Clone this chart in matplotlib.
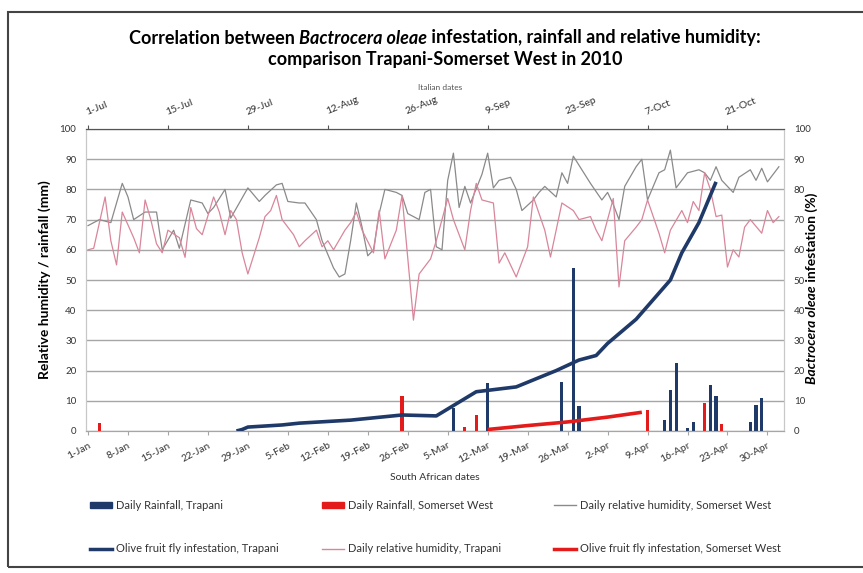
import numpy as np
import matplotlib.pyplot as plt
from matplotlib.patches import Patch, Rectangle
from matplotlib.lines import Line2D

plt.rcParams['font.family'] = ['Lato', 'DejaVu Sans']

# --- data (day 0 = 1-Jan / 1-Jul) ---
sa_labels = ["1-Jan", "8-Jan", "15-Jan", "22-Jan", "29-Jan", "5-Feb", "12-Feb", "19-Feb",
             "26-Feb", "5-Mar", "12-Mar", "19-Mar", "26-Mar", "2-Apr", "9-Apr", "16-Apr",
             "23-Apr", "30-Apr"]
it_labels = ["1-Jul", "15-Jul", "29-Jul", "12-Aug", "26-Aug", "9-Sep", "23-Sep", "7-Oct", "21-Oct"]

# daily relative humidity, Somerset West (grey line)
rh_sw_day = [0, 2, 4, 6, 7, 8, 10, 12, 13, 15, 16, 18, 20, 21, 22, 24, 25, 28, 30, 31, 33, 34,
             35, 37, 38, 40, 41, 43, 44, 45, 46, 47, 48, 49, 50, 51, 52, 54, 55, 56, 58, 59, 60,
             61, 62, 63, 64, 65, 66, 67, 69, 70, 71, 72, 74, 75, 76, 78, 79, 80, 82, 83, 84, 85,
             87, 88, 90, 91, 92, 93, 94, 96, 97, 98, 100, 101, 102, 103, 105, 107, 108, 109, 110,
             111, 113, 114, 116, 117, 118, 119, 121]
rh_sw = [68, 70, 69, 82, 77.5, 70, 72.5, 72.5, 60, 66.5, 60.5, 76.5, 75.5, 72, 74, 80, 70.5,
         80.5, 76, 78, 81.5, 82, 76, 75.5, 75.5, 70, 63, 54, 51, 52, 63, 75.5, 67.5, 58, 60, 72,
         80, 79, 78, 72, 70, 79, 80, 61, 60, 83, 92, 74, 81, 75.5, 85, 92, 80.5, 83, 84, 80, 73,
         76.5, 79, 81, 77.5, 85.5, 82, 91, 85, 82, 76.5, 79, 75, 70, 81, 87.5, 90, 76.5, 85.5,
         86.5, 93, 80.5, 85.5, 86.5, 85.5, 83, 87.5, 83, 79, 84, 86.5, 83, 87, 82.5, 87.5]

# daily relative humidity, Trapani (pink line)
rh_tp_day = [0, 1, 3, 4, 5, 6, 8, 9, 10, 11, 12, 13, 14, 16, 17, 18, 19, 20, 22, 23, 24, 25, 26,
             27, 28, 30, 31, 32, 33, 34, 36, 37, 38, 40, 41, 42, 43, 45, 46, 47, 48, 50, 51, 52,
             54, 55, 57, 58, 60, 61, 63, 64, 66, 67, 68, 69, 71, 72, 73, 75, 77, 78, 80, 81, 83,
             85, 86, 88, 89, 90, 92, 93, 94, 96, 97, 98, 100, 101, 102, 104, 105, 106, 107, 108,
             109, 110, 111, 112, 113, 114, 115, 116, 118, 119, 120, 121]
rh_tp = [60, 60.5, 77.5, 63, 55, 72.5, 64, 59, 76.5, 70, 62, 59, 66.5, 64, 57.5, 74, 67, 65,
         77.5, 72.5, 65, 73, 70, 59, 52, 64, 71, 73, 78, 70, 65, 61, 63, 66.5, 61, 63, 60, 66.5,
         69, 72.5, 66.5, 59, 73, 57, 66.5, 78, 36.7, 52, 57, 63, 77, 70, 60, 73, 82, 76.5, 75.5,
         55.6, 59, 51, 61, 77.5, 66.5, 57.6, 75.5, 73, 70, 71, 66.5, 63, 77, 47.7, 63, 67.5, 70,
         76.5, 65.5, 59, 66.5, 73, 69, 76, 73, 85.5, 80, 71, 71.5, 54.3, 60, 57.6, 67.5, 70,
         65.5, 73, 69, 71]

# olive fruit fly infestation (%)
fly_tp_day = [26, 27, 28, 34, 37, 46, 55, 61, 68, 75, 82, 86, 89, 91, 96, 102, 104, 107, 110]
fly_tp = [0, 0.5, 1.3, 2.0, 2.6, 3.6, 5.3, 5.0, 13.0, 14.6, 20.0, 23.5, 25.0, 29.0, 37.0, 50.0,
          59.0, 69.0, 82.5]
fly_sw_day = [70, 77, 84, 91, 97]
fly_sw = [0.5, 1.8, 3.0, 4.6, 6.2]

# daily rainfall (mm)
rain_tp_day = [64, 70, 83, 85, 86, 101, 102, 103, 105, 106, 109, 110, 116, 117, 118]
rain_tp = [7.6, 16, 16.2, 54, 8.3, 3.6, 13.6, 22.5, 1, 3, 15.2, 11.6, 3, 8.6, 10.9]
rain_sw_day = [2, 55, 66, 68, 98, 108, 111]
rain_sw = [2.5, 11.6, 1.3, 5.3, 7, 9.3, 2.3]

navy = '#1f3a68'
red = '#e41b1b'
grey = '#8a8a8a'
pink = '#d9869b'

W, H = 863, 573
fig = plt.figure(figsize=(W / 100, H / 100), dpi=100)

def fx(px):
    return px / W

def fy(py):
    return 1 - py / H

# outer frame
fig.patches.append(Rectangle((fx(8), fy(567)), 1.2, fy(12) - fy(567), transform=fig.transFigure,
                             fill=False, edgecolor='#444444', lw=1.5))

ax = fig.add_axes([fx(86), fy(431), fx(784) - fx(86), fy(129) - fy(431)])
ax.set_xlim(-0.35, 121.9)
ax.set_ylim(0, 100)

ax.bar(rain_tp_day, rain_tp, width=0.55, color=navy, zorder=3)
ax.bar(rain_sw_day, rain_sw, width=0.55, color=red, zorder=3)
ax.plot(rh_sw_day, rh_sw, color=grey, lw=0.9, zorder=2)
ax.plot(rh_tp_day, rh_tp, color=pink, lw=0.9, zorder=2)

ax2 = ax.twinx()
ax2.set_ylim(0, 100)
ax2.plot(fly_tp_day, fly_tp, color=navy, lw=2.6, solid_capstyle='butt', zorder=4)
ax2.plot(fly_sw_day, fly_sw, color=red, lw=2.6, solid_capstyle='butt', zorder=4)

# grid and spines
ax.set_yticks(np.arange(0, 101, 10))
ax.yaxis.grid(True, color='#a6a6a6', lw=1.0)
ax.set_axisbelow(True)
for a in (ax, ax2):
    a.spines['left'].set_color('#c8c8c8')
    a.spines['right'].set_color('#c8c8c8')
    a.spines['bottom'].set_color('#a6a6a6')
    a.spines['top'].set_color('#555555')
ax2.set_yticks(np.arange(0, 101, 10))
ax.tick_params(axis='y', length=0, labelsize=7, labelcolor='#333333', pad=7)
ax2.tick_params(axis='y', length=0, labelsize=7, labelcolor='#333333', pad=7)

# bottom axis: South African dates
ax.set_xticks(np.arange(0, 7 * len(sa_labels), 7))
ax.set_xticklabels(sa_labels, rotation=28, ha='right', rotation_mode='anchor',
                   fontsize=7.5, color='#333333')
ax.tick_params(axis='x', length=3, color='#a6a6a6', pad=4)
ax.set_xlabel('South African dates', fontsize=7.5, color='#333333', labelpad=6)

# top axis: Italian dates
top = ax.secondary_xaxis('top')
top.set_xticks(np.arange(0, 14 * len(it_labels), 14))
top.set_xticklabels(it_labels, rotation=22, ha='left', rotation_mode='anchor',
                    fontsize=7.5, color='#333333')
top.tick_params(axis='x', length=3, color='#555555', pad=6)
top.spines['top'].set_visible(False)
fig.text(fx(440), fy(88), 'Italian dates', fontsize=6, color='#555555', ha='center', va='center')

# left label
fig.text(fx(45), fy(280), 'Relative humidity / rainfall (mm)', rotation=90, fontsize=10,
         fontweight='bold', ha='center', va='center')

# title and right label with italic parts
r = fig.canvas.get_renderer()

def line_parts(parts, cx, py, size):
    ts = []
    for s, st in parts:
        ts.append(fig.text(0, fy(py), s, fontsize=size, fontweight='bold', fontstyle=st,
                           ha='left', va='center'))
    widths = [t.get_window_extent(r).width for t in ts]
    x = cx - sum(widths) / 2
    for t, w in zip(ts, widths):
        t.set_x(fx(x))
        x += w

line_parts([('Correlation between ', 'normal'), ('Bactrocera oleae', 'italic'),
            (' infestation, rainfall and relative humidity:', 'normal')], 445, 38, 13)
line_parts([('comparison Trapani-Somerset West in 2010', 'normal')], 445, 59, 13)

t1 = fig.text(fx(812), 0, 'Bactrocera oleae', rotation=90, fontsize=10, fontweight='bold',
              fontstyle='italic', ha='center', va='bottom')
t2 = fig.text(fx(812), 0, ' infestation (%)', rotation=90, fontsize=10, fontweight='bold',
              ha='center', va='bottom')
h1 = t1.get_window_extent(r).height
h2 = t2.get_window_extent(r).height
y0 = (H - 288) - (h1 + h2) / 2
t1.set_y(y0 / H)
t2.set_y((y0 + h1) / H)

# legend: three equal-width columns, two rows
columns = [
    ([Patch(color=navy), Line2D([], [], color=navy, lw=2.5)],
     ['Daily Rainfall, Trapani', 'Olive fruit fly infestation, Trapani'], 90),
    ([Patch(color=red), Line2D([], [], color=pink, lw=1)],
     ['Daily Rainfall, Somerset West', 'Daily relative humidity, Trapani'], 322),
    ([Line2D([], [], color=grey, lw=1), Line2D([], [], color=red, lw=2.5)],
     ['Daily relative humidity, Somerset West', 'Olive fruit fly infestation, Somerset West'], 554),
]
for hs, ls, px in columns:
    leg = fig.legend(hs, ls, loc='upper left', bbox_to_anchor=(fx(px), fy(500)),
                     frameon=False, fontsize=8, labelspacing=2.9, borderpad=0,
                     borderaxespad=0, handlelength=2.0, handleheight=0.5, handletextpad=0.3,
                     labelcolor='#333333')

fig.savefig('out.png', dpi=100)
